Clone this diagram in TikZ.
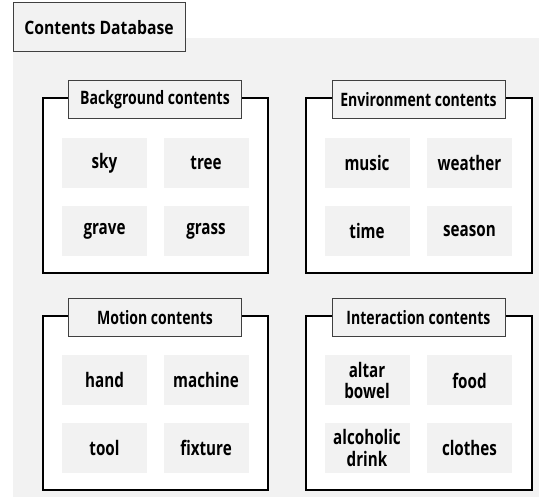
\documentclass[tikz,border=0pt]{standalone}
\usepackage{fontspec}
\setmainfont{Open Sans}
\newfontfamily\titlefont[FakeStretch=0.85]{Open Sans}
\newfontfamily\narrowfont[FakeStretch=0.76]{Open Sans}
\usetikzlibrary{positioning}
\definecolor{bggray}{HTML}{F2F2F2}
\definecolor{linegray}{HTML}{404040}
\tikzset{
  titlebox/.style={draw=linegray, line width=1pt, fill=bggray, minimum width=172pt, minimum height=49pt, font=\titlefont\fontsize{18.5}{20}\selectfont\bfseries},
  panelframe/.style={draw=black, line width=2pt, fill=white},
  panellabel/.style={draw=linegray, line width=1pt, fill=bggray, minimum width=173pt, minimum height=38pt, font=\narrowfont\fontsize{18.5}{20}\selectfont\bfseries},
  itembox/.style={fill=bggray, minimum width=85pt, minimum height=50pt, inner sep=0pt, align=center, font=\narrowfont\fontsize{20}{21.5}\selectfont\bfseries},
}
\begin{document}
\begin{tikzpicture}[x=1pt, y=-1pt]
  \useasboundingbox (0,0) rectangle (539,497);
  % gray database area
  \fill[bggray] (13,38) rectangle (539,497);
  \node[titlebox] (title) at (99,27.5) {Contents Database};

  % background contents
  \draw[panelframe] (43,98) rectangle (268,273);
  \node[panellabel] (bglabel) at (155,100) {Background contents};
  \node[itembox] (sky) at (104.5,163) {sky};
  \node[itembox] (tree) at (206,163) {tree};
  \node[itembox] (grave) at (104.5,231) {grave};
  \node[itembox] (grass) at (206,231) {grass};

  % environment contents
  \draw[panelframe] (306,98) rectangle (532,273);
  \node[panellabel] (envlabel) at (418.5,100) {Environment contents};
  \node[itembox] (music) at (367,163) {music};
  \node[itembox] (weather) at (469.5,163) {weather};
  \node[itembox] (time) at (367,231) {time};
  \node[itembox] (season) at (469.5,231) {season};

  % motion contents
  \draw[panelframe] (43,316) rectangle (268,490);
  \node[panellabel] (motlabel) at (155,317.5) {Motion contents};
  \node[itembox] (hand) at (104.5,380.5) {hand};
  \node[itembox] (machine) at (206,380.5) {machine};
  \node[itembox] (tool) at (104.5,448) {tool};
  \node[itembox] (fixture) at (206,448) {fixture};

  % interaction contents
  \draw[panelframe] (306,316) rectangle (532,490);
  \node[panellabel] (intlabel) at (418.5,317.5) {Interaction contents};
  \node[itembox] (altar) at (367,380.5) {altar\\bowel};
  \node[itembox] (food) at (469.5,380.5) {food};
  \node[itembox] (drink) at (367,448) {alcoholic\\drink};
  \node[itembox] (clothes) at (469.5,448) {clothes};
\end{tikzpicture}
\end{document}
